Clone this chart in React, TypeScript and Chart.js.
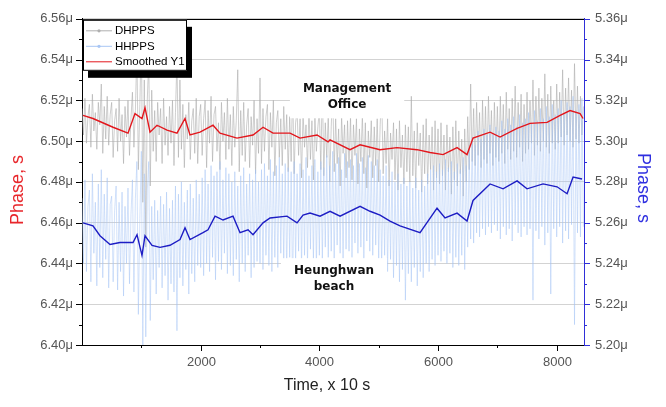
import React, { useEffect, useRef } from 'react';
import { Chart, registerables } from 'chart.js';

Chart.register(...registerables);

// ---------- data ----------
const SAMPLE_STEP = 25; // time units between raw samples shown

// DHPPS raw phase (left axis, µs)
const dhpps = [
  6.516, 6.503, 6.521, 6.499, 6.512, 6.518, 6.497, 6.523, 6.505, 6.514, 6.496, 6.519, 6.508, 6.528, 6.494, 6.517, 6.501, 6.522, 6.498, 6.513,
  6.519, 6.492, 6.510, 6.516, 6.495, 6.521, 6.500, 6.513, 6.489, 6.517, 6.502, 6.520, 6.493, 6.511, 6.524, 6.497, 6.515, 6.545, 6.486, 6.518,
  6.552, 6.470, 6.530, 6.448, 6.520, 6.540, 6.478, 6.525, 6.495, 6.515, 6.490, 6.519, 6.503, 6.516, 6.489, 6.521, 6.498, 6.512, 6.493, 6.517,
  6.499, 6.520, 6.488, 6.514, 6.540, 6.492, 6.530, 6.496, 6.518, 6.487, 6.513, 6.501, 6.519, 6.491, 6.510, 6.516, 6.494, 6.521, 6.489, 6.512,
  6.518, 6.493, 6.511, 6.520, 6.487, 6.515, 6.499, 6.522, 6.490, 6.513, 6.517, 6.495, 6.509, 6.486, 6.519, 6.500, 6.514, 6.491, 6.521, 6.496,
  6.513, 6.488, 6.517, 6.497, 6.510, 6.535, 6.485, 6.515, 6.493, 6.519, 6.490, 6.508, 6.516, 6.487, 6.512, 6.498, 6.520, 6.484, 6.511, 6.494,
  6.531, 6.489, 6.516, 6.495, 6.512, 6.518, 6.486, 6.514, 6.497, 6.520, 6.483, 6.509, 6.515, 6.492, 6.511, 6.488, 6.517, 6.496, 6.513, 6.485,
  6.512, 6.490, 6.527, 6.484, 6.509, 6.515, 6.493, 6.511, 6.482, 6.514, 6.497, 6.508, 6.487, 6.516, 6.491, 6.510, 6.481, 6.513, 6.495, 6.507,
  6.515, 6.486, 6.530, 6.483, 6.509, 6.492, 6.513, 6.480, 6.507, 6.526, 6.485, 6.511, 6.489, 6.506, 6.478, 6.512, 6.494, 6.508, 6.482, 6.510,
  6.487, 6.512, 6.481, 6.508, 6.493, 6.511, 6.479, 6.506, 6.490, 6.513, 6.484, 6.509, 6.477, 6.505, 6.492, 6.510, 6.482, 6.507, 6.488, 6.511,
  6.480, 6.508, 6.525, 6.484, 6.505, 6.489, 6.511, 6.478, 6.504, 6.491, 6.509, 6.481, 6.506, 6.476, 6.510, 6.487, 6.503, 6.479, 6.508, 6.485,
  6.507, 6.480, 6.522, 6.483, 6.505, 6.477, 6.509, 6.488, 6.504, 6.475, 6.508, 6.484, 6.511, 6.479, 6.503, 6.486, 6.507, 6.476, 6.510, 6.482,
  6.506, 6.479, 6.509, 6.483, 6.503, 6.476, 6.508, 6.485, 6.502, 6.474, 6.507, 6.481, 6.510, 6.478, 6.505, 6.484, 6.501, 6.473, 6.506, 6.480,
  6.512, 6.486, 6.528, 6.490, 6.516, 6.488, 6.519, 6.493, 6.514, 6.487, 6.520, 6.491, 6.517, 6.489, 6.522, 6.494, 6.515, 6.488, 6.519, 6.492,
  6.517, 6.490, 6.522, 6.494, 6.518, 6.489, 6.524, 6.496, 6.516, 6.491, 6.521, 6.495, 6.527, 6.492, 6.519, 6.497, 6.523, 6.490, 6.518, 6.494,
  6.524, 6.496, 6.520, 6.499, 6.530, 6.493, 6.522, 6.498, 6.526, 6.495, 6.521, 6.500, 6.533, 6.497, 6.523, 6.494, 6.527, 6.499, 6.520, 6.496,
  6.528, 6.499, 6.524, 6.502, 6.535, 6.498, 6.526, 6.503, 6.531, 6.500, 6.525, 6.497, 6.538, 6.501, 6.527, 6.499, 6.522, 6.503, 6.517,
];

// HHPPS raw phase (right axis, µs)
const hhpps = [
  5.272, 5.240, 5.281, 5.236, 5.268, 5.276, 5.231, 5.284, 5.245, 5.270, 5.229, 5.279, 5.238, 5.286, 5.233, 5.274, 5.242, 5.282, 5.228, 5.269,
  5.273, 5.231, 5.266, 5.278, 5.227, 5.270, 5.236, 5.275, 5.224, 5.268, 5.240, 5.277, 5.230, 5.264, 5.281, 5.226, 5.272, 5.290, 5.215, 5.262,
  5.295, 5.200, 5.284, 5.204, 5.276, 5.290, 5.212, 5.268, 5.232, 5.271, 5.225, 5.266, 5.238, 5.273, 5.228, 5.269, 5.234, 5.275, 5.222, 5.267,
  5.230, 5.271, 5.226, 5.278, 5.207, 5.274, 5.233, 5.280, 5.229, 5.270, 5.237, 5.276, 5.225, 5.279, 5.235, 5.272, 5.231, 5.281, 5.239, 5.274,
  5.238, 5.282, 5.234, 5.286, 5.240, 5.279, 5.236, 5.288, 5.243, 5.283, 5.232, 5.285, 5.241, 5.290, 5.237, 5.281, 5.245, 5.287, 5.235, 5.284,
  5.239, 5.280, 5.234, 5.285, 5.242, 5.278, 5.231, 5.283, 5.240, 5.287, 5.236, 5.279, 5.244, 5.284, 5.233, 5.281, 5.238, 5.286, 5.241, 5.280,
  5.240, 5.286, 5.237, 5.289, 5.244, 5.283, 5.239, 5.291, 5.236, 5.285, 5.243, 5.288, 5.238, 5.292, 5.245, 5.284, 5.241, 5.289, 5.235, 5.287,
  5.243, 5.285, 5.225, 5.290, 5.240, 5.284, 5.246, 5.289, 5.238, 5.286, 5.244, 5.292, 5.239, 5.283, 5.247, 5.288, 5.241, 5.291, 5.237, 5.285,
  5.244, 5.290, 5.241, 5.287, 5.248, 5.293, 5.243, 5.288, 5.246, 5.295, 5.240, 5.289, 5.249, 5.292, 5.245, 5.286, 5.242, 5.294, 5.247, 5.290,
  5.246, 5.291, 5.243, 5.288, 5.250, 5.294, 5.245, 5.289, 5.248, 5.292, 5.242, 5.287, 5.251, 5.293, 5.246, 5.290, 5.244, 5.288, 5.249, 5.291,
  5.241, 5.286, 5.238, 5.283, 5.244, 5.288, 5.236, 5.281, 5.242, 5.285, 5.233, 5.280, 5.239, 5.284, 5.231, 5.279, 5.237, 5.282, 5.222, 5.278,
  5.235, 5.280, 5.231, 5.277, 5.238, 5.282, 5.229, 5.276, 5.236, 5.281, 5.233, 5.278, 5.240, 5.284, 5.236, 5.286, 5.242, 5.288, 5.239, 5.285,
  5.244, 5.289, 5.241, 5.286, 5.246, 5.291, 5.240, 5.287, 5.245, 5.290, 5.238, 5.285, 5.243, 5.289, 5.239, 5.286, 5.244, 5.292, 5.237, 5.288,
  5.248, 5.296, 5.252, 5.302, 5.250, 5.298, 5.255, 5.305, 5.253, 5.301, 5.257, 5.306, 5.254, 5.303, 5.258, 5.308, 5.255, 5.304, 5.259, 5.307,
  5.256, 5.305, 5.252, 5.310, 5.258, 5.306, 5.254, 5.311, 5.257, 5.308, 5.251, 5.312, 5.259, 5.307, 5.255, 5.313, 5.253, 5.309, 5.258, 5.311,
  5.254, 5.314, 5.257, 5.309, 5.222, 5.315, 5.256, 5.310, 5.252, 5.316, 5.258, 5.311, 5.249, 5.317, 5.255, 5.312, 5.225, 5.318, 5.257, 5.313,
  5.253, 5.316, 5.258, 5.320, 5.250, 5.314, 5.256, 5.319, 5.252, 5.317, 5.259, 5.322, 5.210, 5.315, 5.255, 5.318, 5.253, 5.321, 5.258,
];

// Smoothed DHPPS ("Smoothed Y1", left axis)
const smoothRedX = [
  17, 185, 523, 775, 893, 1011, 1062, 1146, 1264, 1433, 1601, 1736, 1820, 1989,
  2208, 2326, 2612, 2882, 3051, 3219, 3506, 3674, 3961, 4146, 4180, 4517, 4686,
  5023, 5309, 5646, 5866, 6085, 6321, 6489, 6590, 6877, 7045, 7332, 7551, 7838,
  8057, 8225, 8394, 8444,
];
const smoothRedY = [
  6.5126, 6.5111, 6.5068, 6.5039, 6.5135, 6.5111, 6.5164, 6.5044, 6.5078, 6.5054,
  6.5039, 6.5111, 6.5030, 6.5044, 6.5078, 6.5039, 6.5015, 6.5030, 6.5068, 6.5039,
  6.5039, 6.5015, 6.5030, 6.4996, 6.5006, 6.4958, 6.4982, 6.4958, 6.4968, 6.4958,
  6.4944, 6.4934, 6.4968, 6.4934, 6.5015, 6.5044, 6.5020, 6.5063, 6.5087, 6.5092,
  6.5126, 6.5150, 6.5135, 6.5111,
];

// Smoothed HHPPS (right axis)
const smoothBlueX = [
  17, 185, 303, 472, 640, 860, 927, 1011, 1062, 1180, 1315, 1483, 1652, 1736,
  1820, 2039, 2124, 2242, 2377, 2545, 2663, 2798, 2882, 3051, 3169, 3455, 3624,
  3725, 3843, 4011, 4180, 4349, 4686, 4854, 5023, 5191, 5360, 5697, 5983, 6118,
  6321, 6489, 6590, 6877, 7096, 7332, 7500, 7770, 8006, 8175, 8276, 8427,
];
const smoothBlueY = [
  5.2599, 5.2584, 5.2536, 5.2493, 5.2503, 5.2503, 5.2541, 5.2440, 5.2536, 5.2489,
  5.2479, 5.2489, 5.2517, 5.2575, 5.2517, 5.2551, 5.2565, 5.2632, 5.2613, 5.2632,
  5.2551, 5.2565, 5.2541, 5.2599, 5.2623, 5.2632, 5.2599, 5.2637, 5.2647, 5.2632,
  5.2656, 5.2632, 5.2680, 5.2656, 5.2637, 5.2608, 5.2584, 5.2551, 5.2671, 5.2623,
  5.2647, 5.2608, 5.2709, 5.2790, 5.2766, 5.2805, 5.2766, 5.2790, 5.2776, 5.2742,
  5.2824, 5.2814,
];

const X_MIN = 0;
const X_MAX = 8460;
const X_MAJOR = 2000;
const X_MINOR = 1000;
const LEFT_MIN = 6.40;
const LEFT_MAX = 6.56;
const RIGHT_MIN = 5.20;
const RIGHT_MAX = 5.36;
const Y_MAJOR = 0.02;
const Y_MINOR = 0.01;

const X_TITLE = 'Time, x 10 s';
const Y_TITLE = 'Phase, s';
const LEGEND_LABELS = ['DHPPS', 'HHPPS', 'Smoothed Y1'];

const ANNOTATIONS = [
  { lines: ['Management', 'Office'], x: 4467, y: 6.5215 },
  { lines: ['Heunghwan', 'beach'], x: 4247, y: 6.4323 },
];

// ---------- styles ----------
const SANS = '"Liberation Sans", Arial, sans-serif';
const C_GRAY = 'rgba(172,172,172,0.85)';
const C_LBLUE = 'rgba(165, 196, 244, 0.7)';
const C_RED = '#e3171d';
const C_BLUE = '#1d1dc4';
const C_AXIS_BLUE = '#2f2fd8';

const decorPlugin = {
  id: 'decor',
  afterDatasetsDraw(chart: any) {
    const { ctx, scales } = chart;
    const x = scales.x;
    const y = scales.y;
    ctx.save();
    ctx.font = 'bold 12px "DejaVu Sans", Verdana, sans-serif';
    ctx.textAlign = 'center';
    ctx.textBaseline = 'middle';
    for (const a of ANNOTATIONS) {
      const cx = x.getPixelForValue(a.x);
      const cy = y.getPixelForValue(a.y);
      const lh = 16;
      const w = Math.max(...a.lines.map((l) => ctx.measureText(l).width)) + 26;
      const h = a.lines.length * lh + 10;
      ctx.fillStyle = '#ffffff';
      ctx.fillRect(cx - w / 2, cy - h / 2, w, h);
      ctx.fillStyle = '#111111';
      a.lines.forEach((l, i) => {
        ctx.fillText(l, cx, cy + (i - (a.lines.length - 1) / 2) * lh);
      });
    }
    ctx.restore();
  },
  afterDraw(chart: any) {
    const { ctx, chartArea: ca, scales } = chart;
    const x = scales.x;
    const yl = scales.y;
    const yr = scales.y2;
    ctx.save();
    // top frame line
    ctx.strokeStyle = '#000';
    ctx.lineWidth = 1;
    ctx.beginPath();
    ctx.moveTo(ca.left, Math.round(ca.top) + 0.5);
    ctx.lineTo(ca.right, Math.round(ca.top) + 0.5);
    ctx.stroke();

    // left ticks
    const nY = Math.round((LEFT_MAX - LEFT_MIN) / Y_MINOR);
    for (let k = 0; k <= nY; k++) {
      const py = Math.round(yl.getPixelForValue(LEFT_MIN + k * Y_MINOR)) + 0.5;
      const len = k % 2 === 0 ? 6 : 3;
      ctx.strokeStyle = '#000';
      ctx.beginPath();
      ctx.moveTo(ca.left - len, py);
      ctx.lineTo(ca.left, py);
      ctx.stroke();
    }
    // right ticks
    for (let k = 0; k <= nY; k++) {
      const py = Math.round(yr.getPixelForValue(RIGHT_MIN + k * Y_MINOR)) + 0.5;
      const len = k % 2 === 0 ? 6 : 3;
      ctx.strokeStyle = C_AXIS_BLUE;
      ctx.beginPath();
      ctx.moveTo(ca.right, py);
      ctx.lineTo(ca.right + len, py);
      ctx.stroke();
    }
    // bottom ticks and labels
    ctx.font = `13px ${SANS}`;
    ctx.textAlign = 'center';
    ctx.textBaseline = 'top';
    for (let v = X_MINOR; v < X_MAX; v += X_MINOR) {
      const px = Math.round(x.getPixelForValue(v)) + 0.5;
      const major = v % X_MAJOR === 0;
      const len = major ? 6 : 3;
      ctx.strokeStyle = '#000';
      ctx.beginPath();
      ctx.moveTo(px, ca.bottom);
      ctx.lineTo(px, ca.bottom + len);
      ctx.stroke();
      if (major) {
        ctx.fillStyle = '#555';
        ctx.fillText(String(v), px, ca.bottom + 11);
      }
    }

    // axis titles
    ctx.font = `18px ${SANS}`;
    ctx.textAlign = 'center';
    ctx.textBaseline = 'middle';
    ctx.save();
    ctx.translate(18, 190);
    ctx.rotate(-Math.PI / 2);
    ctx.fillStyle = '#e8262b';
    ctx.fillText(Y_TITLE, 0, 0);
    ctx.restore();
    ctx.save();
    ctx.translate(643, 188);
    ctx.rotate(Math.PI / 2);
    ctx.fillStyle = '#2f2fe0';
    ctx.fillText(Y_TITLE, 0, 0);
    ctx.restore();
    ctx.font = `16px ${SANS}`;
    ctx.fillStyle = '#222';
    ctx.fillText(X_TITLE, (ca.left + ca.right) / 2 - 6, 386);

    // legend with drop shadow
    const lx = ca.left + 1;
    const ly = ca.top + 1;
    const lw = 104;
    const lh = 51;
    ctx.fillStyle = '#000';
    ctx.fillRect(lx + 5, ly + 7, lw, lh);
    ctx.fillStyle = '#fff';
    ctx.fillRect(lx, ly, lw, lh);
    ctx.strokeStyle = '#000';
    ctx.lineWidth = 1;
    ctx.strokeRect(lx + 0.5, ly + 0.5, lw - 1, lh - 1);
    const colors = ['rgb(175,175,175)', 'rgb(168,198,244)', C_RED];
    const markers = [true, true, false];
    ctx.font = `11.5px ${SANS}`;
    ctx.textAlign = 'left';
    LEGEND_LABELS.forEach((lab, i) => {
      const yy = ly + 11 + i * 15.5;
      ctx.strokeStyle = colors[i];
      ctx.lineWidth = 1;
      ctx.beginPath();
      ctx.moveTo(lx + 3, yy);
      ctx.lineTo(lx + 29, yy);
      ctx.stroke();
      if (markers[i]) {
        ctx.fillStyle = colors[i];
        ctx.beginPath();
        ctx.arc(lx + 16, yy, 1.6, 0, Math.PI * 2);
        ctx.fill();
      }
      ctx.fillStyle = '#000';
      ctx.fillText(lab, lx + 32, yy + 0.5);
    });
    ctx.restore();
  },
};

export default function App() {
  const canvasRef = useRef<HTMLCanvasElement | null>(null);

  useEffect(() => {
    const canvas = canvasRef.current;
    if (!canvas) return;
    const tickFont = { family: SANS, size: 13 };
    const chart = new Chart(canvas, {
      type: 'line',
      data: {
        datasets: [
          {
            label: LEGEND_LABELS[2],
            data: smoothRedX.map((xv, i) => ({ x: xv, y: smoothRedY[i] })),
            yAxisID: 'y',
            borderColor: C_RED,
            borderWidth: 1.4,
            pointRadius: 0,
          },
          {
            label: 'Smoothed Y2',
            data: smoothBlueX.map((xv, i) => ({ x: xv, y: smoothBlueY[i] })),
            yAxisID: 'y2',
            borderColor: C_BLUE,
            borderWidth: 1.4,
            pointRadius: 0,
          },
          {
            label: LEGEND_LABELS[1],
            data: hhpps.map((v, i) => ({ x: i * SAMPLE_STEP, y: v })),
            yAxisID: 'y2',
            borderColor: C_LBLUE,
            borderWidth: 0.7,
            pointRadius: 0,
          },
          {
            label: LEGEND_LABELS[0],
            data: dhpps.map((v, i) => ({ x: i * SAMPLE_STEP, y: v })),
            yAxisID: 'y',
            borderColor: C_GRAY,
            borderWidth: 0.7,
            pointRadius: 0,
          },
        ],
      },
      options: {
        responsive: false,
        animation: false,
        events: [],
        layout: { padding: { top: 11, left: 0, right: 0, bottom: 0 } },
        plugins: { legend: { display: false }, tooltip: { enabled: false } },
        scales: {
          x: {
            type: 'linear',
            min: X_MIN,
            max: X_MAX,
            grid: { drawOnChartArea: false, drawTicks: false },
            border: { color: '#000', width: 1 },
            ticks: { display: false },
            afterFit: (s: any) => {
              s.height = 62;
            },
          },
          y: {
            type: 'linear',
            position: 'left',
            min: LEFT_MIN,
            max: LEFT_MAX,
            grid: { color: '#d3d3d3', drawTicks: false },
            border: { color: '#000', width: 1 },
            ticks: {
              stepSize: Y_MAJOR,
              padding: 9,
              color: '#555',
              font: tickFont,
              callback: (v: any) => Number(v).toFixed(2) + 'μ',
            },
            afterFit: (s: any) => {
              s.width = 82;
            },
          },
          y2: {
            type: 'linear',
            position: 'right',
            min: RIGHT_MIN,
            max: RIGHT_MAX,
            grid: { drawOnChartArea: false, drawTicks: false },
            border: { color: C_AXIS_BLUE, width: 1 },
            ticks: {
              stepSize: Y_MAJOR,
              padding: 11,
              color: '#555',
              font: tickFont,
              callback: (v: any) => Number(v).toFixed(2) + 'μ',
            },
            afterFit: (s: any) => {
              s.width = 82;
            },
          },
        },
      },
      plugins: [decorPlugin],
    } as any);
    return () => chart.destroy();
  }, []);

  return (
    <div style={{ position: 'absolute', left: 0, top: 0, width: 666, height: 407, background: '#fff' }}>
      <canvas ref={canvasRef} width={666} height={407} style={{ display: 'block' }} />
    </div>
  );
}
